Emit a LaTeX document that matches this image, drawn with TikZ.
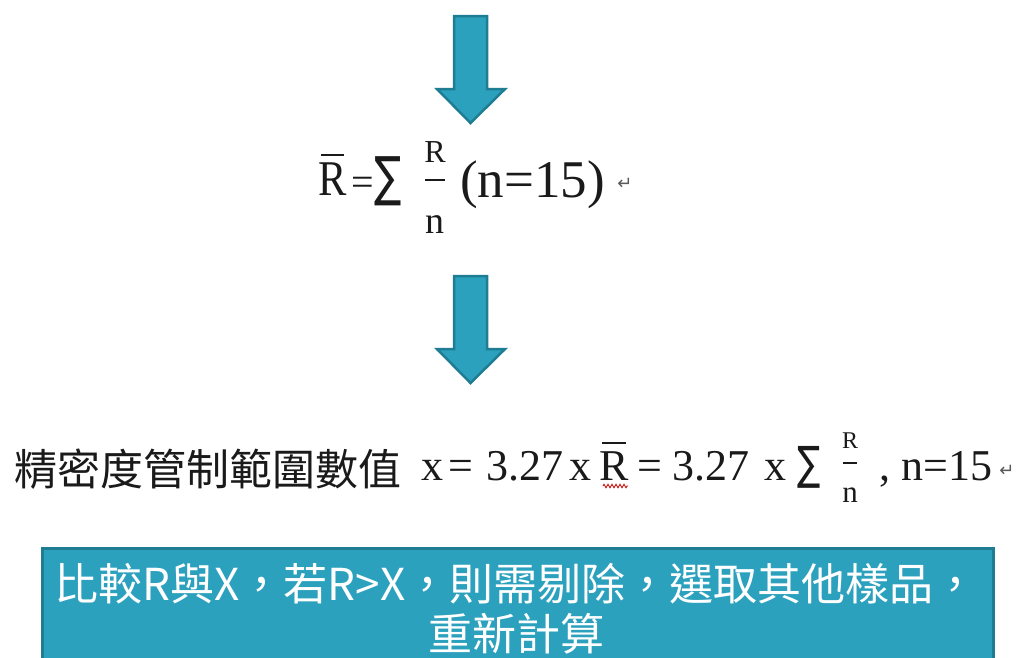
\documentclass[tikz,border=0pt]{standalone}
\usepackage{fontspec}
\setmainfont{Liberation Serif}
\newfontfamily\cjk{Noto Sans CJK TC}
\newfontfamily\dvs{DejaVu Sans}
\usetikzlibrary{decorations.pathmorphing}
\definecolor{teal1}{HTML}{2CA1BE}
\definecolor{teal2}{HTML}{1F7D93}
\definecolor{ink}{HTML}{1A1A1A}
\tikzset{
  bigarrow/.style={fill=teal1, draw=teal2, line width=2.5pt, line join=miter},
  tx/.style={inner sep=0pt, anchor=base west, text=ink},
  fa/.style={tx, font=\fontsize{53}{60}\selectfont},
  fb/.style={tx, font=\fontsize{44}{50}\selectfont},
  sumsym/.style={inner sep=0pt, anchor=center, text=ink},
  fracbar/.style={draw=ink, line width=1.6pt},
  ovbar/.style={draw=ink, line width=2.2pt},
  retmark/.style={inner sep=0pt, text=gray!70!black, font=\dvs\fontsize{18}{20}\selectfont},
  cmpbox/.style={fill=teal1, draw=teal2, line width=3pt},
  wtext/.style={inner sep=0pt, anchor=base, text=white, font=\cjk\fontsize{44}{50}\selectfont},
}
\begin{document}
\begin{tikzpicture}[x=1pt,y=-1pt]
\useasboundingbox (0,0) rectangle (1024,657);
\fill[white] (0,0) rectangle (1024,657);

% arrows
\draw[bigarrow] (454,16) -- (487,16) -- (487,89) -- (505,89) -- (470.5,123) -- (437,89) -- (454,89) -- cycle;
\draw[bigarrow] (454,276) -- (487,276) -- (487,349) -- (505,349) -- (470.5,383) -- (437,349) -- (454,349) -- cycle;

% line 1: Rbar = sum R/n (n=15)
\node[fa, font=\fontsize{50}{60}\selectfont] (r1) at (318,195) {\scalebox{0.85}[1]{R}};
\draw[ovbar] (321,155) -- (344,155);
\node[fa, font=\fontsize{40}{48}\selectfont] (eq1) at (351,195) {=};
\node[sumsym, font=\dvs\fontsize{54}{58}\selectfont] (s1) at (388,181) {\scalebox{0.75}[1]{∑}};
\node[tx, anchor=base, font=\fontsize{32}{36}\selectfont] (fr1) at (435,162) {R};
\draw[fracbar] (425,180) -- (445,180);
\node[tx, anchor=base, font=\fontsize{38}{40}\selectfont] (fn1) at (435,233) {n};
\node[fa] (par1) at (460,197) {(n=15)};
\node[retmark] (ret1) at (625,184) {↵};

% line 2
\node[tx, font=\cjk\fontsize{43}{50}\selectfont] (zh) at (14,485) {精密度管制範圍數值};
\node[fb] (x2) at (421,480) {x};
\node[fb] (eq2) at (448,480) {=};
\node[fb] (n327a) at (486,480) {3.27};
\node[fb] (x3) at (569,480) {x};
\node[fb] (r2) at (599,480) {R};
\draw[ovbar, line width=2pt] (602,443) -- (626,443);
\draw[red!80!black, line width=0.8pt, decorate, decoration={zigzag, segment length=4pt, amplitude=1.8pt}] (603,486) -- (628,486);
\node[fb] (eq3) at (637,480) {=};
\node[fb] (n327b) at (672,480) {3.27};
\node[fb] (x4) at (764,480) {x};
\node[sumsym, font=\dvs\fontsize{46}{50}\selectfont] (s2) at (809,467) {\scalebox{0.75}[1]{∑}};
\node[tx, anchor=base, font=\fontsize{24}{28}\selectfont] (fr2) at (850,448) {R};
\draw[fracbar, line width=1.3pt] (843,463) -- (857,463);
\node[tx, anchor=base, font=\fontsize{31}{34}\selectfont] (fn2) at (850,502) {n};
\node[fb] (cm) at (879,480) {,};
\node[fb] (n15) at (901,480) {n=15};
\node[retmark] (ret2) at (1007,471) {↵};

% bottom box
\draw[cmpbox] (42,548) rectangle (993,690);
\node[wtext] (t1) at (516,600) {比較R與X，若R>X，則需剔除，選取其他樣品，};
\node[wtext] (t2) at (516,650) {重新計算};
\end{tikzpicture}
\end{document}
